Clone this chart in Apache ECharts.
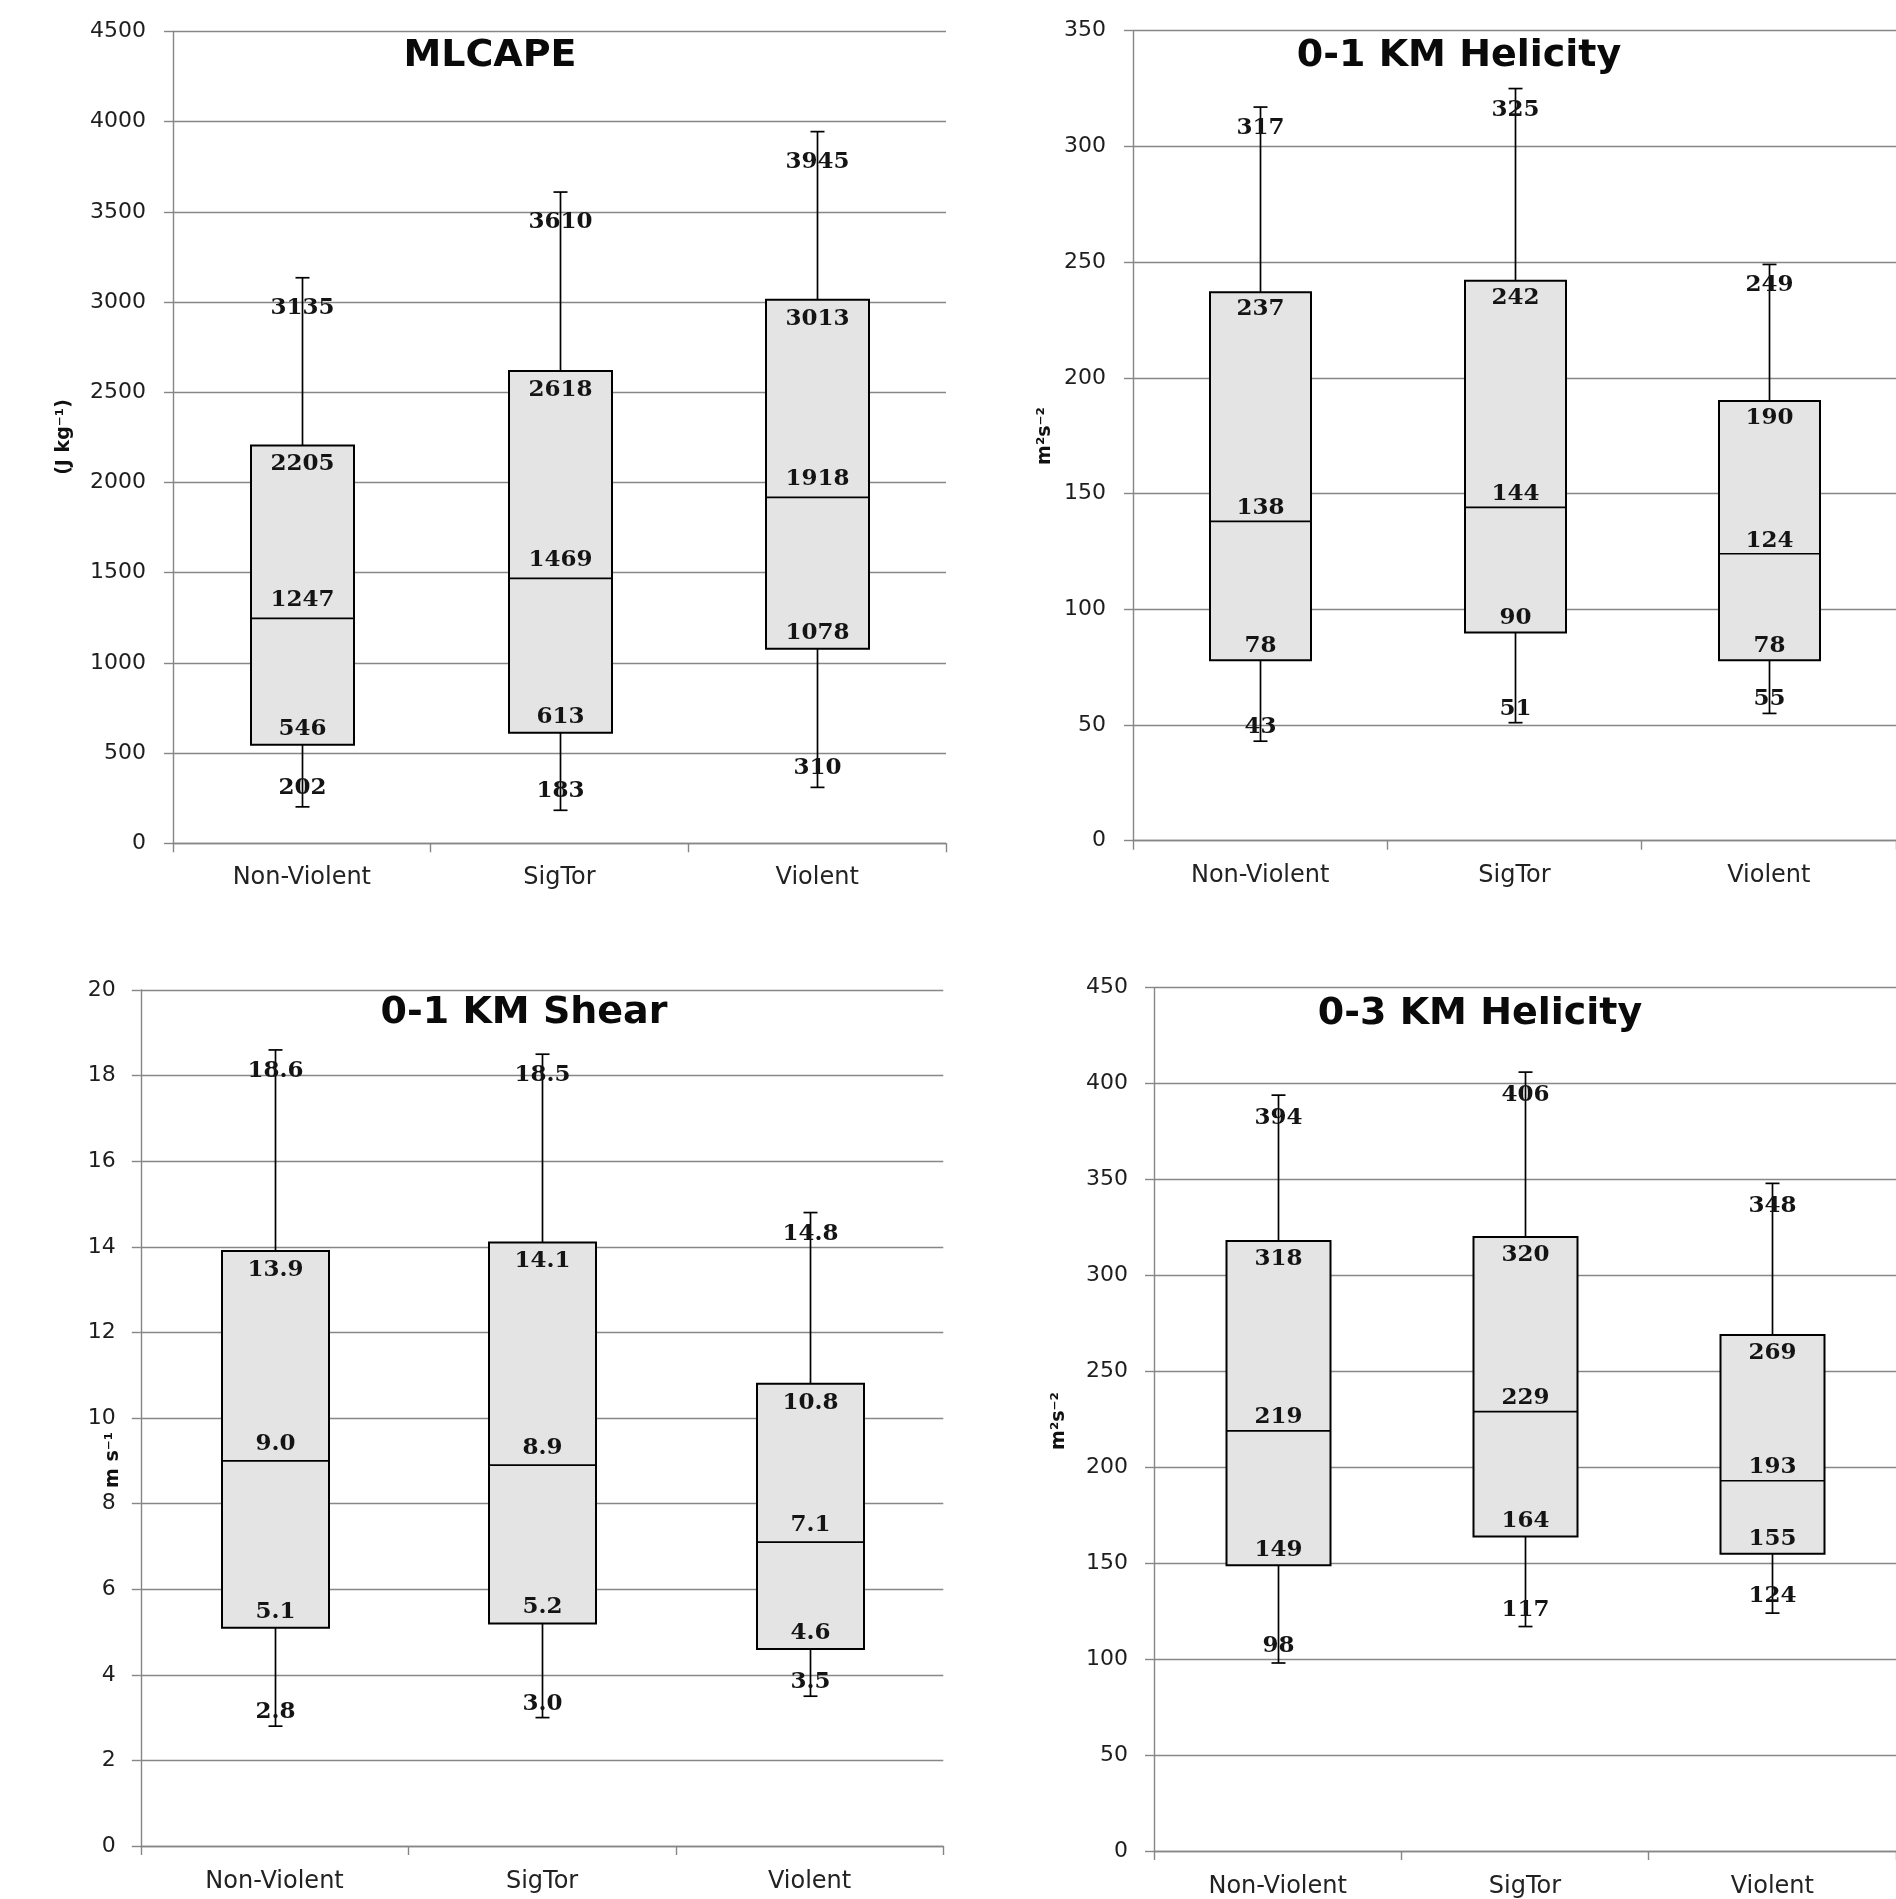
<!DOCTYPE html>
<html>
<head>
<meta charset="utf-8">
<script src="https://cdn.jsdelivr.net/npm/echarts@6/dist/echarts.min.js"></script>
<style>
html,body{margin:0;padding:0;background:#fff;}
#c{width:1896px;height:1899px;}
</style>
</head>
<body>
<div id="c"></div>
<script>
// ---------------- data ----------------
const categories = ['Non-Violent', 'SigTor', 'Violent'];

// MLCAPE (J kg-1)
const capeMin = [202, 183, 310];
const capeQ1  = [546, 613, 1078];
const capeMed = [1247, 1469, 1918];
const capeQ3  = [2205, 2618, 3013];
const capeMax = [3135, 3610, 3945];
const capeAxis = [0, 4500, 500];          // min, max, step

// 0-1 km helicity (m2 s-2)
const hel1Min = [43, 51, 55];
const hel1Q1  = [78, 90, 78];
const hel1Med = [138, 144, 124];
const hel1Q3  = [237, 242, 190];
const hel1Max = [317, 325, 249];
const hel1Axis = [0, 350, 50];

// 0-1 km shear (m s-1)
const shearMin = [2.8, 3.0, 3.5];
const shearQ1  = [5.1, 5.2, 4.6];
const shearMed = [9.0, 8.9, 7.1];
const shearQ3  = [13.9, 14.1, 10.8];
const shearMax = [18.6, 18.5, 14.8];
const shearAxis = [0, 20, 2];

// 0-3 km helicity (m2 s-2)
const hel3Min = [98, 117, 124];
const hel3Q1  = [149, 164, 155];
const hel3Med = [219, 229, 193];
const hel3Q3  = [318, 320, 269];
const hel3Max = [394, 406, 348];
const hel3Axis = [0, 450, 50];

const titles = ['MLCAPE', '0-1 KM Helicity', '0-1 KM Shear', '0-3 KM Helicity'];
const unitNames = ['(J kg\u207B\u00B9)', 'm\u00B2s\u207B\u00B2', 'm s\u207B\u00B9', 'm\u00B2s\u207B\u00B2'];

// ---------------- layout ----------------
const panels = [
  {stats: [capeMin, capeQ1, capeMed, capeQ3, capeMax], axis: capeAxis, dec: 0,
   grid: {left: 173, top: 31.5, width: 773, height: 811.8}, boxW: 103, lblMargin: 27, catMargin: 22,
   title: [490, 56], unit: [64, 437], offs: [-19, -16, -18, 19, 30]},
  {stats: [hel1Min, hel1Q1, hel1Med, hel1Q3, hel1Max], axis: hel1Axis, dec: 0,
   grid: {left: 1133, top: 30.7, width: 768, height: 810}, boxW: 101, lblMargin: 27, catMargin: 23,
   title: [1459, 56], unit: [1045, 436], offs: [-14, -14, -13, 17, 21]},
  {stats: [shearMin, shearQ1, shearMed, shearQ3, shearMax], axis: shearAxis, dec: 1,
   grid: {left: 140.8, top: 990, width: 802.5, height: 856}, boxW: 107, lblMargin: 25, catMargin: 24,
   title: [524, 1013], unit: [113, 1460], offs: [-14, -16, -17, 19, 21]},
  {stats: [hel3Min, hel3Q1, hel3Med, hel3Q3, hel3Max], axis: hel3Axis, dec: 0,
   grid: {left: 1154, top: 987.7, width: 772.5, height: 863.3}, boxW: 104, lblMargin: 26, catMargin: 24,
   title: [1480, 1014], unit: [1059, 1421], offs: [-17, -15, -14, 18, 23]}
];

const axisColor = '#868686';

function makeRender(boxW, dec, offs) {
  return function (params, api) {
    const ci = api.value(0);
    const vals = [api.value(1), api.value(2), api.value(3), api.value(4), api.value(5)];
    const pts = vals.map(v => api.coord([ci, v]));
    const cx = Math.round(pts[0][0]) + 0.5;
    const y = pts.map(p => p[1]);
    const hw = boxW / 2, cw = 7;
    const ln = (x1, y1, x2, y2) => ({type: 'line', shape: {x1, y1, x2, y2},
      style: {stroke: '#000', lineWidth: 1.7}});
    const children = [
      ln(cx, y[0], cx, y[1]),
      ln(cx, y[3], cx, y[4]),
      ln(cx - cw, y[0], cx + cw, y[0]),
      ln(cx - cw, y[4], cx + cw, y[4]),
      {type: 'rect', shape: {x: cx - hw, y: y[3], width: boxW, height: y[1] - y[3]},
       style: {fill: '#e4e4e4', stroke: '#000', lineWidth: 2}},
      ln(cx - hw, y[2], cx + hw, y[2])
    ];
    vals.forEach((v, i) => {
      children.push({type: 'text', z2: 10, style: {
        text: v.toFixed(dec), x: cx, y: y[i] + offs[i],
        align: 'center', verticalAlign: 'middle',
        font: 'bold 23px "DejaVu Serif"', fill: '#141414'}});
    });
    return {type: 'group', children};
  };
}

const grid = [], xAxis = [], yAxis = [], series = [], graphic = [];
panels.forEach((p, i) => {
  grid.push(Object.assign({containLabel: false}, p.grid));
  xAxis.push({
    type: 'category', gridIndex: i, data: categories, boundaryGap: true,
    axisLine: {show: true, lineStyle: {color: axisColor, width: 1.4}},
    axisTick: {show: true, length: 9, alignWithLabel: false, lineStyle: {color: axisColor, width: 1.4}},
    axisLabel: {fontSize: 24, color: '#222', fontFamily: 'DejaVu Sans', margin: p.catMargin},
    splitLine: {show: false}
  });
  yAxis.push({
    type: 'value', gridIndex: i, min: p.axis[0], max: p.axis[1], interval: p.axis[2],
    axisLine: {show: true, lineStyle: {color: axisColor, width: 1.4}},
    axisTick: {show: true, length: 9, lineStyle: {color: axisColor, width: 1.4}},
    axisLabel: {fontSize: 22, color: '#1e1e1e', fontFamily: 'DejaVu Sans', margin: p.lblMargin,
                formatter: v => String(v)},
    splitLine: {show: true, lineStyle: {color: '#878787', width: 1.4}}
  });
  const s = p.stats;
  series.push({
    type: 'custom', xAxisIndex: i, yAxisIndex: i,
    renderItem: makeRender(p.boxW, p.dec, p.offs),
    encode: {x: 0, y: [1, 2, 3, 4, 5]},
    data: categories.map((c, k) => [k, s[0][k], s[1][k], s[2][k], s[3][k], s[4][k]]),
    clip: false, z: 5
  });
  graphic.push({type: 'text', x: p.title[0], y: p.title[1], z: 20, style: {
    text: titles[i], align: 'center', verticalAlign: 'middle',
    font: 'bold 38px "DejaVu Sans"', fill: '#0a0a0a'}});
  graphic.push({type: 'text', x: p.unit[0], y: p.unit[1], rotation: Math.PI / 2, z: 20, style: {
    text: unitNames[i], align: 'center', verticalAlign: 'middle',
    font: 'bold 19px "DejaVu Sans"', fill: '#111'}});
});

const chart = echarts.init(document.getElementById('c'), null, {renderer: 'canvas'});
chart.setOption({
  backgroundColor: '#ffffff',
  animation: false,
  grid, xAxis, yAxis, series, graphic
});
</script>
</body>
</html>
